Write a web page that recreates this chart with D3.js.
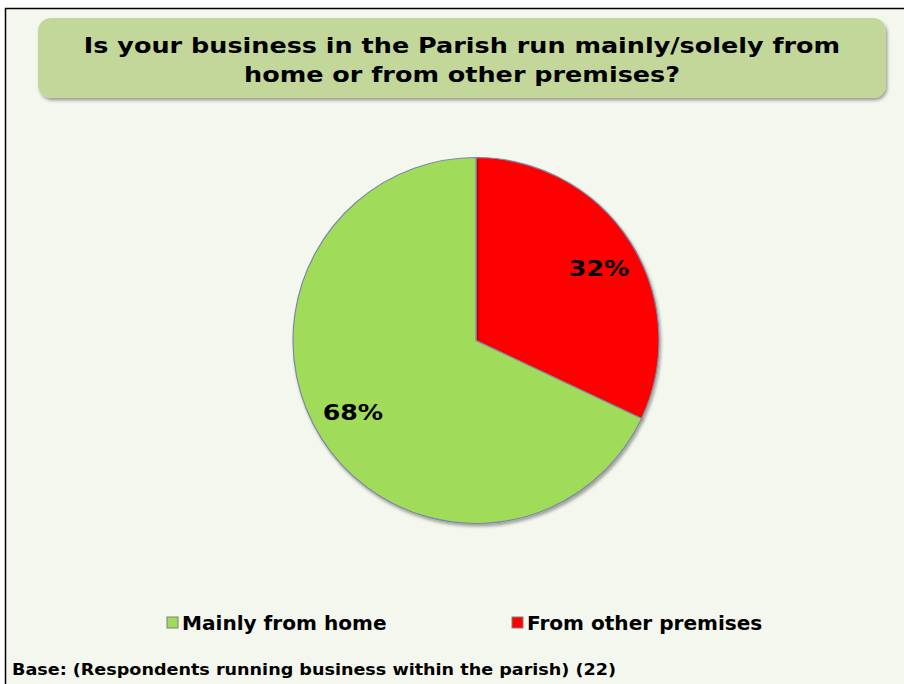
<!DOCTYPE html>
<html>
<head>
<meta charset="utf-8">
<script src="https://cdn.jsdelivr.net/npm/d3@7"></script>
<style>
  body { margin: 0; background: #ffffff; }
  svg { display: block; }
  text { font-family: Verdana, "DejaVu Sans", sans-serif; font-weight: bold; }
</style>
</head>
<body>
<div id="chart"></div>
<script>
// Data
const categories = ["Mainly from home", "From other premises"];
const values = [68, 32];
const colors = ["#a0dc5a", "#ff0000"];
const titleLines = ["Is your business in the Parish run mainly/solely from", "home or from other premises?"];
const baseNote = "Base: (Respondents running business within the parish) (22)";

const width = 904, height = 684;

// DejaVu is narrower than Verdana Bold, so stretch text a little horizontally
const wide = 1.15;

const svg = d3.select("#chart").append("svg")
    .attr("width", width)
    .attr("height", height);

const defs = svg.append("defs");
const shadow = defs.append("filter").attr("id", "shadow")
    .attr("x", "-5%").attr("y", "-20%").attr("width", "110%").attr("height", "150%");
shadow.append("feDropShadow")
    .attr("dx", 1.5).attr("dy", 2.5).attr("stdDeviation", 1.5)
    .attr("flood-color", "#000").attr("flood-opacity", 0.35);

// Frame
svg.append("rect")
    .attr("x", 5.5).attr("y", 8.5)
    .attr("width", width + 10).attr("height", height + 10)
    .attr("fill", "#f4f7ee")
    .attr("stroke", "#000")
    .attr("stroke-width", 1.5);

// Title box
svg.append("rect")
    .attr("x", 38).attr("y", 18)
    .attr("width", 848).attr("height", 80)
    .attr("rx", 13).attr("ry", 13)
    .attr("fill", "#c4d79b")
    .attr("filter", "url(#shadow)");

svg.append("g").selectAll("text")
    .data(titleLines)
    .join("text")
    .attr("transform", (d, i) => `translate(462,${53 + i * 29}) scale(1.158,1)`)
    .attr("text-anchor", "middle")
    .attr("font-size", "22px")
    .attr("fill", "#000")
    .text(d => d);

// Pie
const cx = 476, cy = 340.5, radius = 183;

const pie = d3.pie().sort(null).value(d => d.value)
    .startAngle(0).endAngle(2 * Math.PI);

// red slice starts at 12 o'clock going clockwise, green takes the rest
const pieData = categories.map((c, i) => ({ name: c, value: values[i], color: colors[i] }));
const arcs = pie([pieData[1], pieData[0]]);

const arc = d3.arc().innerRadius(0).outerRadius(radius);
const labelArc = d3.arc().innerRadius(radius * 0.78).outerRadius(radius * 0.78);
// labels sit slightly clockwise of the slice middle
const labelShift = 0.035;

const g = svg.append("g").attr("transform", `translate(${cx},${cy})`);

g.selectAll("path")
    .data(arcs)
    .join("path")
    .attr("d", arc)
    .attr("fill", d => d.data.color)
    .attr("stroke", "#7b8aa3")
    .attr("stroke-width", 1.2)
    .attr("filter", "url(#shadow)");

g.selectAll(".labels")
    .data(arcs)
    .join("text")
    .attr("class", "labels")
    .attr("transform", d => {
        let c = labelArc.centroid({startAngle: d.startAngle + labelShift, endAngle: d.endAngle + labelShift});
        return `translate(${c}) scale(${wide},1)`;
    })
    .attr("text-anchor", "middle")
    .attr("dy", "0.35em")
    .attr("font-size", "22px")
    .text(d => d.data.value + "%");

// Legend
const legendX = [167, 512];
const legend = svg.append("g").selectAll("g")
    .data(pieData)
    .join("g")
    .attr("transform", (d, i) => `translate(${legendX[i]},617)`);

legend.append("rect")
    .attr("width", 11).attr("height", 11)
    .attr("fill", d => d.color)
    .attr("stroke", "#7f7f7f")
    .attr("stroke-width", 1);

legend.append("text")
    .attr("transform", "translate(15,13) scale(1.057,1)")
    .attr("font-size", "19px")
    .text(d => d.name);

// Base note
svg.append("text")
    .attr("transform", "translate(12,675) scale(1.1,1)")
    .attr("font-size", "16px")
    .text(baseNote);
</script>
</body>
</html>
